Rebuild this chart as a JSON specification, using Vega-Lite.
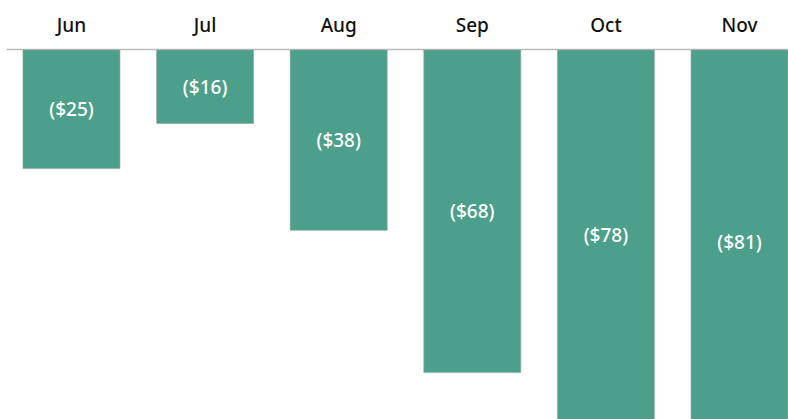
{
  "$schema": "https://vega.github.io/schema/vega-lite/v6.json",
  "autosize": {"type": "none"},
  "padding": {"left": 6, "top": 49, "right": 0, "bottom": 0},
  "width": 799,
  "height": 427,
  "background": "white",
  "config": {"view": {"stroke": null}},
  "data": {
    "values": [
      {"month": "Jun", "value": -25, "label": "($25)"},
      {"month": "Jul", "value": -15.5, "label": "($16)"},
      {"month": "Aug", "value": -38, "label": "($38)"},
      {"month": "Sep", "value": -68, "label": "($68)"},
      {"month": "Oct", "value": -78, "label": "($78)"},
      {"month": "Nov", "value": -81, "label": "($81)"}
    ]
  },
  "encoding": {
    "x": {
      "field": "month",
      "type": "nominal",
      "sort": null,
      "scale": {"paddingInner": 0.274, "paddingOuter": 0.127},
      "axis": {
        "orient": "top",
        "title": null,
        "ticks": false,
        "grid": false,
        "domainColor": "#bbbbbb",
        "domainWidth": 1.5,
        "labelAngle": 0,
        "labelFont": "Noto Sans",
        "labelFontSize": 19,
        "labelFontWeight": 500,
        "labelColor": "#111111",
        "labelPadding": 14
      }
    }
  },
  "layer": [
    {
      "mark": {"type": "bar", "color": "#4c9f8a", "stroke": "#8aa8a0", "strokeWidth": 0.6, "yOffset": 1},
      "encoding": {
        "y": {"field": "value", "type": "quantitative", "scale": {"domain": [-90, 0], "nice": false}, "axis": null}
      }
    },
    {
      "mark": {"type": "text", "color": "white", "font": "Noto Sans", "fontSize": 19, "fontWeight": 500, "baseline": "middle", "align": "center", "dy": 2},
      "encoding": {
        "y": {"field": "value", "type": "quantitative", "scale": {"domain": [-180, 0], "nice": false}, "axis": null},
        "text": {"field": "label", "type": "nominal"}
      }
    }
  ],
  "resolve": {"scale": {"y": "independent"}}
}
